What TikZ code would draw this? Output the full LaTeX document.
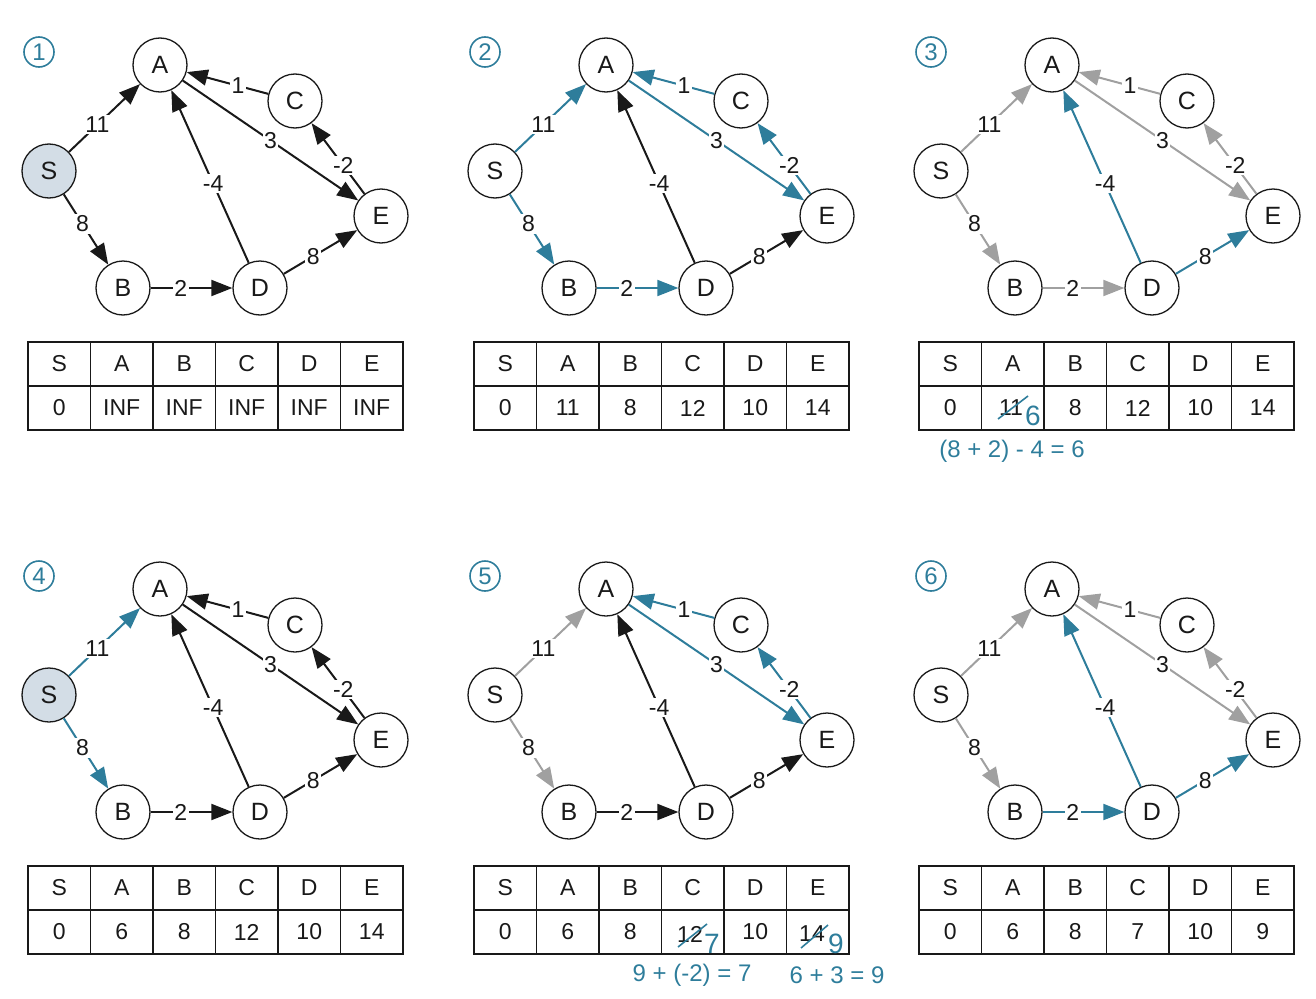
\documentclass[tikz,border=0pt]{standalone}
\usepackage{fontspec}
\setmainfont{Liberation Sans}
\usetikzlibrary{arrows.meta}
\definecolor{hl}{RGB}{46,125,155}
\definecolor{dim}{RGB}{160,160,160}
\definecolor{ink}{RGB}{25,25,25}
\definecolor{sfill}{RGB}{211,221,230}
\tikzset{
 vtx/.style={circle, draw=ink, line width=1.3pt, minimum size=54pt, inner sep=0pt, font=\fontsize{25}{25}\selectfont, text=ink, fill=white},
 conn/.style={line width=2pt, -{Triangle[length=21pt,width=16pt]}},
 blk/.style={conn, draw=ink},
 blu/.style={conn, draw=hl},
 gry/.style={conn, draw=dim},
 wt/.style={fill=white, inner sep=1.5pt, text=ink, font=\fontsize{23}{23}\selectfont},
 cell/.style={draw=ink, line width=1.3pt, minimum width=62.5pt, minimum height=44pt, inner sep=0pt, font=\fontsize{23}{23}\selectfont, text=ink},
 stepnum/.style={circle, draw=hl, line width=1.6pt, minimum size=30pt, inner sep=0pt, text=hl, font=\fontsize{24}{24}\selectfont},
 annot/.style={text=hl, font=\fontsize{24}{24}\selectfont, inner sep=0pt},
 oldval/.style={text=ink, font=\fontsize{23}{23}\selectfont, inner sep=0pt},
 newval/.style={text=hl, font=\fontsize{28}{28}\selectfont, inner sep=0pt},
 strike/.style={draw=hl, line width=1.6pt},
}
\newcommand\setcols[8]{\tikzset{eSA/.style={#1},eSB/.style={#2},eBD/.style={#3},eDA/.style={#4},eAE/.style={#5},eCA/.style={#6},eEC/.style={#7},eDE/.style={#8}}}
\newcommand\graphpanel[5]{%
\begin{scope}[shift={(#2,#3)}]
 \node[stepnum] (#1num) at (39,52) {#4};
 \node[vtx,#5] (#1S) at (49,171) {S};
 \node[vtx] (#1A) at (160,65) {A};
 \node[vtx] (#1C) at (295,101) {C};
 \node[vtx] (#1E) at (381,216) {E};
 \node[vtx] (#1B) at (123,288) {B};
 \node[vtx] (#1D) at (260,288) {D};
 \draw[eSA] (#1S) -- node[wt,pos=0.40]{11} (#1A);
 \draw[eSB] (#1S) -- node[wt,pos=0.42]{8} (#1B);
 \draw[eBD] (#1B) -- node[wt,pos=0.37]{2} (#1D);
 \draw[eDA] (#1D) -- node[wt,pos=0.46]{-4} (#1A);
 \draw[eAE] (#1A) -- node[wt,pos=0.50]{3} (#1E);
 \draw[eCA] (#1C) -- node[wt,pos=0.37]{1} (#1A);
 \draw[eEC] (#1E) -- node[wt,pos=0.40]{-2} (#1C);
 \draw[eDE] (#1D) -- node[wt,pos=0.40]{8} (#1E);
\end{scope}}
\newcommand\disttable[9]{%
\begin{scope}[shift={(#2,#3)}]
 \node[cell] (#1hS) at (59.25,364) {S};
 \node[cell] (#1hA) at (121.75,364) {A};
 \node[cell] (#1hB) at (184.25,364) {B};
 \node[cell] (#1hC) at (246.75,364) {C};
 \node[cell] (#1hD) at (309.25,364) {D};
 \node[cell] (#1hE) at (371.75,364) {E};
 \node[cell] (#1vS) at (59.25,408) {#4};
 \node[cell] (#1vA) at (121.75,408) {#5};
 \node[cell] (#1vB) at (184.25,408) {#6};
 \node[cell] (#1vC) at (246.75,408) {#7};
 \node[cell] (#1vD) at (309.25,408) {#8};
 \node[cell] (#1vE) at (371.75,408) {#9};
\end{scope}}
\begin{document}
\begin{tikzpicture}[x=1pt,y=-1pt]
\useasboundingbox (0,0) rectangle (1316,998);
% panel 1
\setcols{blk}{blk}{blk}{blk}{blk}{blk}{blk}{blk}
\graphpanel{p1}{0}{0}{1}{fill=sfill}
\disttable{p1}{0}{0}{0}{INF}{INF}{INF}{INF}{INF}
% panel 2
\setcols{blu}{blu}{blu}{blk}{blu}{blu}{blu}{blk}
\graphpanel{p2}{446}{0}{2}{}
\disttable{p2}{446}{0}{0}{11}{8}{12}{10}{14}
% panel 3
\setcols{gry}{gry}{gry}{blu}{gry}{gry}{gry}{blu}
\graphpanel{p3}{892}{0}{3}{}
\disttable{p3}{891}{0}{0}{}{8}{12}{10}{14}
\node[oldval] (p3old) at (1011,408) {11};
\draw[strike] ([shift={(-13,11)}]p3old.center) -- ([shift={(17,-12)}]p3old.center);
\node[newval] (p3new) at (1033,416) {6};
\node[annot] (p3calc) at (1012,451) {(8 + 2) - 4 = 6};
% panel 4
\setcols{blu}{blu}{blk}{blk}{blk}{blk}{blk}{blk}
\graphpanel{p4}{0}{524}{4}{fill=sfill}
\disttable{p4}{0}{524}{0}{6}{8}{12}{10}{14}
% panel 5
\setcols{gry}{gry}{blk}{blk}{blu}{blu}{blu}{blk}
\graphpanel{p5}{446}{524}{5}{}
\disttable{p5}{446}{524}{0}{6}{8}{}{10}{}
\node[oldval] (p5oldC) at (690,934) {12};
\draw[strike] ([shift={(-12,13)}]p5oldC.center) -- ([shift={(17,-10)}]p5oldC.center);
\node[newval] (p5newC) at (712,944) {7};
\node[oldval] (p5oldE) at (812,934) {14};
\draw[strike] ([shift={(-11,14)}]p5oldE.center) -- ([shift={(16,-9)}]p5oldE.center);
\node[newval] (p5newE) at (836,944) {9};
\node[annot] (p5calcC) at (692,975) {9 + (-2) = 7};
\node[annot] (p5calcE) at (837,975) {6 + 3 = 9};
% panel 6
\setcols{gry}{gry}{blu}{blu}{gry}{gry}{gry}{blu}
\graphpanel{p6}{892}{524}{6}{}
\disttable{p6}{891}{524}{0}{6}{8}{7}{10}{9}
\end{tikzpicture}
\end{document}
